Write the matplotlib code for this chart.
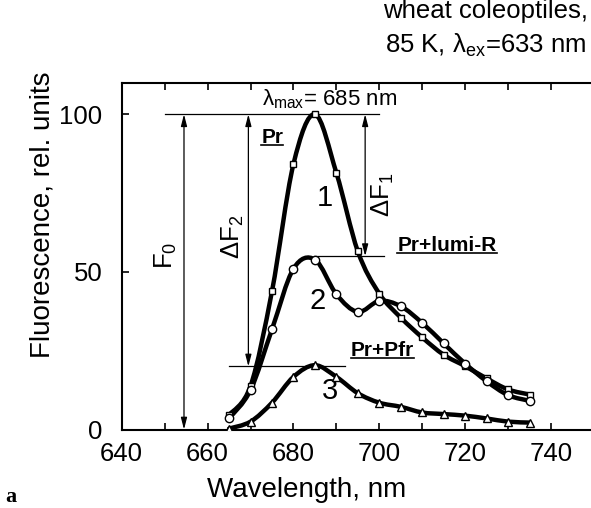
import matplotlib.pyplot as plt
from matplotlib.lines import Line2D
from matplotlib.patches import PathPatch
from matplotlib.path import Path
import numpy as np

# Fluorescence spectra (wavelength in nm)
wavelength = [665, 670, 675, 680, 685, 690, 695, 700, 705, 710, 715, 720, 725, 730, 735]
pr = [4.6, 13.8, 43.9, 84.2, 100, 81.4, 56.5, 43.1, 35.5, 29.2, 23.7, 20.1, 16.2, 12.7, 11.1]
pr_lumi = [3.5, 12.5, 31.8, 51.0, 53.9, 42.9, 37.3, 40.8, 39.1, 33.8, 27.3, 20.9, 15.3, 10.9, 9.1]
pr_pfr = [0.3, 2.5, 8.5, 16.7, 20.4, 16.7, 11.5, 8.5, 7.2, 5.4, 4.9, 4.4, 3.5, 2.5, 2.2]

x_major = [640, 660, 680, 700, 720, 740]
x_minor = [650, 670, 690, 710, 730, 750]
y_ticks = [0, 50, 100]

plt.rcParams["font.family"] = ["Liberation Sans", "DejaVu Sans"]
plt.rcParams["mathtext.fontset"] = "custom"
plt.rcParams["mathtext.rm"] = "Liberation Sans"
plt.rcParams["mathtext.it"] = "Liberation Sans:italic"


def smooth_path(x, y):
    # Catmull-Rom curve through the measured points, as cubic Bezier segments
    pts = np.column_stack([x, y]).astype(float)
    n = len(pts)
    verts = [pts[0]]
    codes = [Path.MOVETO]
    for i in range(n - 1):
        p0 = pts[max(i - 1, 0)]
        p1 = pts[i]
        p2 = pts[i + 1]
        p3 = pts[min(i + 2, n - 1)]
        verts += [p1 + (p2 - p0) / 6, p2 - (p3 - p1) / 6, p2]
        codes += [Path.CURVE4] * 3
    return Path(verts, codes)


def main() -> None:
    fig = plt.figure(figsize=(5.91, 5.08), dpi=100)
    ax = fig.add_axes([0.206, 0.1545, 0.799, 0.6826])

    for values, marker, size in [(pr, "s", 5), (pr_lumi, "o", 6), (pr_pfr, "^", 6)]:
        ax.add_patch(PathPatch(smooth_path(wavelength, values), fill=False,
                               lw=3.2, ec="black", zorder=3, capstyle="round"))
        ax.plot(wavelength, values, ls="none", marker=marker, ms=size,
                mfc="white", mec="black", mew=1, zorder=4)

    ax.set_xlim(640, 750)
    ax.set_ylim(0, 110)
    ax.set_xticks(x_major)
    ax.set_xticks(x_minor, minor=True)
    ax.set_yticks(y_ticks)
    ax.tick_params(which="both", direction="in", top=True, length=5, width=1.2)
    ax.tick_params(axis="x", labelsize=18.5, pad=9)
    ax.tick_params(axis="y", labelsize=18.5, pad=14)
    for side in ["left", "bottom", "top"]:
        ax.spines[side].set_linewidth(1.5)
    ax.spines["right"].set_visible(False)

    # Reference lines and arrows
    thin = dict(color="black", lw=0.9, zorder=2)
    ax.plot([650, 700], [100, 100], **thin)
    ax.plot([684.7, 701], [55, 55], **thin)
    ax.plot([665, 692], [20, 20], **thin)
    arrow = dict(arrowstyle="<|-|>,head_length=0.7,head_width=0.18", color="black",
                 lw=0.9, shrinkA=0, shrinkB=0, mutation_scale=10)
    ax.annotate("", xy=(654.5, 100), xytext=(654.5, 0), arrowprops=arrow)
    ax.annotate("", xy=(669.5, 100), xytext=(669.5, 20), arrowprops=arrow)
    ax.annotate("", xy=(696.7, 100), xytext=(696.7, 55), arrowprops=arrow)

    ax.text(650.3, 55.2, "F$_0$", rotation=90, ha="center", va="center", fontsize=18.5)
    ax.text(665.9, 61.2, "ΔF$_2$", rotation=90, ha="center", va="center", fontsize=18.5)
    ax.text(700.9, 74.5, "ΔF$_1$", rotation=90, ha="center", va="center", fontsize=18.5)
    ax.text(672.7, 102.7, "λ$_{\\rm max}$= 685 nm", ha="left", va="baseline", fontsize=16)

    for num, x, y in [("1", 687.2, 73.4), ("2", 685.6, 40.7), ("3", 688.6, 12.2)]:
        ax.text(x, y, num, ha="center", va="center", fontsize=21)

    # Underlined state labels
    renderer = fig.canvas.get_renderer()
    for label, x, y in [("Pr", 672.5, 91.0), ("Pr+lumi-R", 704.2, 56.5), ("Pr+Pfr", 693.4, 23.4)]:
        t = ax.text(x, y, label, ha="left", va="baseline", fontsize=15, fontweight="bold")
        bb = t.get_window_extent(renderer)
        bx, by = ax.transData.transform((x, y))
        line_y = (by - 2) / fig.bbox.height
        fig.add_artist(Line2D([bb.x0 / fig.bbox.width, bb.x1 / fig.bbox.width],
                              [line_y, line_y], color="black", lw=1.2))

    fig.text(43 / 591, 0.577, "Fluorescence, rel. units", rotation=90,
             ha="center", va="center", fontsize=20)
    fig.text(307 / 591, 1 - 490 / 508, "Wavelength, nm", ha="center", va="center", fontsize=20)
    fig.text(0.995, 0.9646, "wheat coleoptiles,", ha="right", va="baseline", fontsize=18.5)
    fig.text(0.992, 0.8957, "85 K, λ$_{\\rm ex}$=633 nm", ha="right", va="baseline", fontsize=18.5)
    fig.text(5 / 591, 1 - 502 / 508, "a", ha="left", va="baseline", fontsize=16,
             fontweight="bold", family="Liberation Serif")

    fig.savefig("out.png", dpi=100)


if __name__ == "__main__":
    main()
